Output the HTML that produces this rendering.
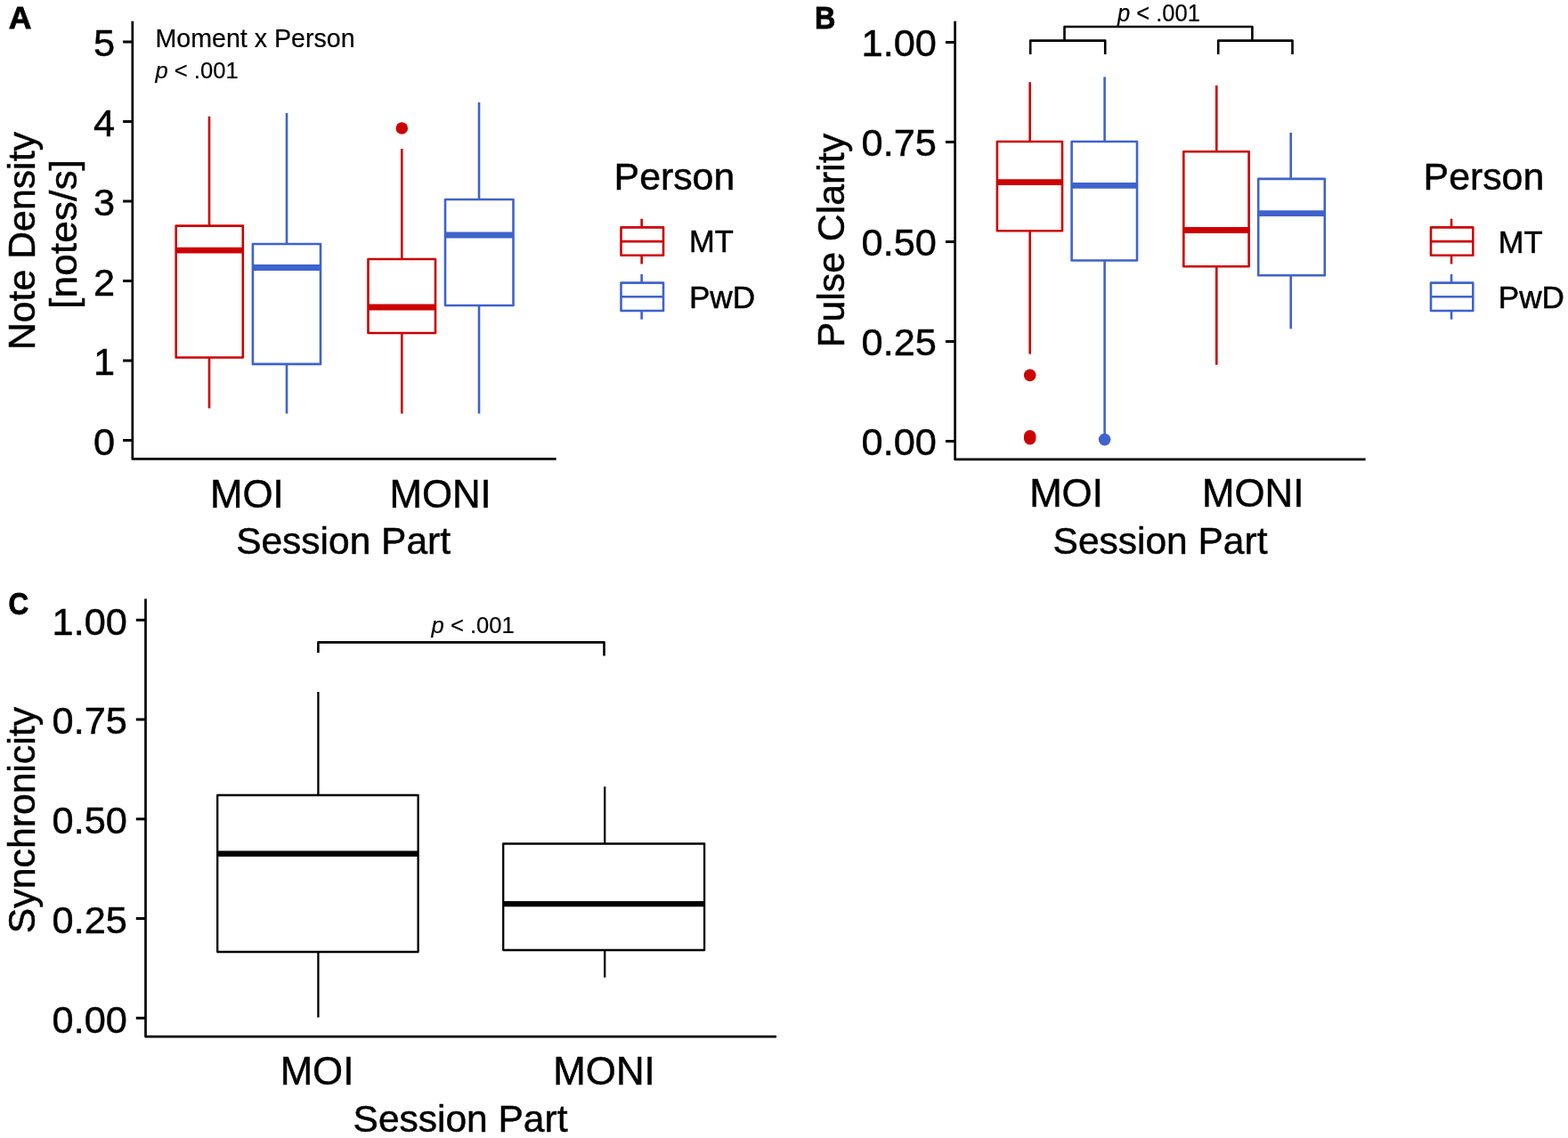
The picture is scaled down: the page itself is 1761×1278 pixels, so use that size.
<!DOCTYPE html>
<html lang="en">
<head>
<meta charset="utf-8">
<title>Figure</title>
<style>
html,body{margin:0;padding:0;background:#fff;}
body{width:1761px;height:1278px;overflow:hidden;}
svg{display:block;font-family:"Liberation Sans",sans-serif;}
</style>
</head>
<body>
<svg role="img" aria-label="Box plots of note density, pulse clarity and synchronicity by session part" width="1761" height="1278" viewBox="0 0 1761 1278">
<rect x="0" y="0" width="1761" height="1278" fill="#fff"/>
<g id="panel-A">
<polyline points="148.80,23.80 148.80,515.40 624.60,515.40" fill="none" stroke="#000" stroke-width="2.7" stroke-linejoin="round" stroke-linecap="butt"/>
<line x1="138.10" y1="47.00" x2="148.80" y2="47.00" stroke="#000" stroke-width="3.0" stroke-linecap="butt"/>
<text transform="translate(129.20,63.00)" font-size="43.3" text-anchor="end" stroke="#000" stroke-width="0.5" fill="#000" xml:space="preserve">5</text>
<line x1="138.10" y1="136.50" x2="148.80" y2="136.50" stroke="#000" stroke-width="3.0" stroke-linecap="butt"/>
<text transform="translate(129.20,152.50)" font-size="43.3" text-anchor="end" stroke="#000" stroke-width="0.5" fill="#000" xml:space="preserve">4</text>
<line x1="138.10" y1="226.00" x2="148.80" y2="226.00" stroke="#000" stroke-width="3.0" stroke-linecap="butt"/>
<text transform="translate(129.20,242.00)" font-size="43.3" text-anchor="end" stroke="#000" stroke-width="0.5" fill="#000" xml:space="preserve">3</text>
<line x1="138.10" y1="315.50" x2="148.80" y2="315.50" stroke="#000" stroke-width="3.0" stroke-linecap="butt"/>
<text transform="translate(129.20,331.50)" font-size="43.3" text-anchor="end" stroke="#000" stroke-width="0.5" fill="#000" xml:space="preserve">2</text>
<line x1="138.10" y1="405.00" x2="148.80" y2="405.00" stroke="#000" stroke-width="3.0" stroke-linecap="butt"/>
<text transform="translate(129.20,421.00)" font-size="43.3" text-anchor="end" stroke="#000" stroke-width="0.5" fill="#000" xml:space="preserve">1</text>
<line x1="138.10" y1="494.50" x2="148.80" y2="494.50" stroke="#000" stroke-width="3.0" stroke-linecap="butt"/>
<text transform="translate(129.20,510.50)" font-size="43.3" text-anchor="end" stroke="#000" stroke-width="0.5" fill="#000" xml:space="preserve">0</text>
<text transform="translate(277.30,569.80)" font-size="43.8" text-anchor="middle" stroke="#000" stroke-width="0.5" fill="#000" xml:space="preserve">MOI</text>
<text transform="translate(494.60,569.80)" font-size="43.8" text-anchor="middle" stroke="#000" stroke-width="0.5" fill="#000" xml:space="preserve">MONI</text>
<text transform="translate(385.60,622.00) scale(0.9840,1)" font-size="43.2" text-anchor="middle" stroke="#000" stroke-width="0.5" fill="#000" xml:space="preserve">Session Part</text>
<text transform="translate(38.50,270.60) rotate(-90) scale(0.9910,1)" font-size="43.2" text-anchor="middle" stroke="#000" stroke-width="0.5" fill="#000" xml:space="preserve">Note Density</text>
<text transform="translate(86.00,263.00) rotate(-90) scale(1.0280,1)" font-size="43.2" text-anchor="middle" stroke="#000" stroke-width="0.5" fill="#000" xml:space="preserve">[notes/s]</text>
<line x1="235.00" y1="130.70" x2="235.00" y2="253.60" stroke="#CC0000" stroke-width="2.6" stroke-linecap="butt"/>
<line x1="235.00" y1="401.50" x2="235.00" y2="458.50" stroke="#CC0000" stroke-width="2.6" stroke-linecap="butt"/>
<rect x="197.70" y="253.60" width="75.10" height="147.90" fill="#fff" stroke="#CC0000" stroke-width="2.6" stroke-linejoin="round"/>
<line x1="197.70" y1="281.20" x2="272.80" y2="281.20" stroke="#CC0000" stroke-width="6.8" stroke-linecap="butt"/>
<line x1="322.00" y1="127.00" x2="322.00" y2="274.00" stroke="#3F62CC" stroke-width="2.6" stroke-linecap="butt"/>
<line x1="322.00" y1="408.90" x2="322.00" y2="464.50" stroke="#3F62CC" stroke-width="2.6" stroke-linecap="butt"/>
<rect x="283.90" y="274.00" width="76.10" height="134.90" fill="#fff" stroke="#3F62CC" stroke-width="2.6" stroke-linejoin="round"/>
<line x1="283.90" y1="300.50" x2="360.00" y2="300.50" stroke="#3F62CC" stroke-width="6.8" stroke-linecap="butt"/>
<line x1="451.30" y1="167.00" x2="451.30" y2="291.00" stroke="#CC0000" stroke-width="2.6" stroke-linecap="butt"/>
<line x1="451.30" y1="374.00" x2="451.30" y2="464.50" stroke="#CC0000" stroke-width="2.6" stroke-linecap="butt"/>
<rect x="413.50" y="291.00" width="75.50" height="83.00" fill="#fff" stroke="#CC0000" stroke-width="2.6" stroke-linejoin="round"/>
<line x1="413.50" y1="345.00" x2="489.00" y2="345.00" stroke="#CC0000" stroke-width="6.8" stroke-linecap="butt"/>
<line x1="538.00" y1="115.00" x2="538.00" y2="224.00" stroke="#3F62CC" stroke-width="2.6" stroke-linecap="butt"/>
<line x1="538.00" y1="343.00" x2="538.00" y2="464.50" stroke="#3F62CC" stroke-width="2.6" stroke-linecap="butt"/>
<rect x="500.00" y="224.00" width="76.50" height="119.00" fill="#fff" stroke="#3F62CC" stroke-width="2.6" stroke-linejoin="round"/>
<line x1="500.00" y1="264.00" x2="576.50" y2="264.00" stroke="#3F62CC" stroke-width="6.8" stroke-linecap="butt"/>
<circle cx="451.3" cy="144" r="6.8" fill="#CC0000"/>
<text transform="translate(9.70,31.70)" font-size="35.5" font-weight="bold" stroke="#000" stroke-width="0.8" fill="#000" xml:space="preserve">A</text>
<text transform="translate(174.50,53.00)" font-size="28.6" stroke="#000" stroke-width="0.2" fill="#000" xml:space="preserve">Moment x Person</text>
<text transform="translate(174.50,88.00) scale(0.9650,1)" font-size="26.5" stroke="#000" stroke-width="0.2" fill="#000" xml:space="preserve"><tspan font-style="italic">p</tspan> &lt; .001</text>
<text transform="translate(689.60,213.30)" font-size="42.8" stroke="#000" stroke-width="0.5" fill="#000" xml:space="preserve">Person</text>
<line x1="720.65" y1="245.70" x2="720.65" y2="296.50" stroke="#CC0000" stroke-width="2.6" stroke-linecap="butt"/>
<rect x="697.50" y="255.40" width="47.50" height="31.40" fill="#fff" stroke="#CC0000" stroke-width="2.6" stroke-linejoin="round"/>
<line x1="697.50" y1="271.10" x2="745.00" y2="271.10" stroke="#CC0000" stroke-width="2.6" stroke-linecap="butt"/>
<text transform="translate(773.90,283.40)" font-size="34.5" stroke="#000" stroke-width="0.5" fill="#000" xml:space="preserve">MT</text>
<line x1="720.65" y1="307.90" x2="720.65" y2="358.70" stroke="#3F62CC" stroke-width="2.6" stroke-linecap="butt"/>
<rect x="697.50" y="317.60" width="47.50" height="31.40" fill="#fff" stroke="#3F62CC" stroke-width="2.6" stroke-linejoin="round"/>
<line x1="697.50" y1="333.30" x2="745.00" y2="333.30" stroke="#3F62CC" stroke-width="2.6" stroke-linecap="butt"/>
<text transform="translate(773.90,345.60) scale(1.0200,1)" font-size="34.5" stroke="#000" stroke-width="0.5" fill="#000" xml:space="preserve">PwD</text>
</g>
<g id="panel-B">
<polyline points="1072.60,23.80 1072.60,515.90 1533.60,515.90" fill="none" stroke="#000" stroke-width="2.7" stroke-linejoin="round" stroke-linecap="butt"/>
<line x1="1061.90" y1="47.50" x2="1072.60" y2="47.50" stroke="#000" stroke-width="3.0" stroke-linecap="butt"/>
<text transform="translate(1051.90,63.00)" font-size="43.3" text-anchor="end" stroke="#000" stroke-width="0.5" fill="#000" xml:space="preserve">1.00</text>
<line x1="1061.90" y1="159.50" x2="1072.60" y2="159.50" stroke="#000" stroke-width="3.0" stroke-linecap="butt"/>
<text transform="translate(1051.90,175.00)" font-size="43.3" text-anchor="end" stroke="#000" stroke-width="0.5" fill="#000" xml:space="preserve">0.75</text>
<line x1="1061.90" y1="271.50" x2="1072.60" y2="271.50" stroke="#000" stroke-width="3.0" stroke-linecap="butt"/>
<text transform="translate(1051.90,287.00)" font-size="43.3" text-anchor="end" stroke="#000" stroke-width="0.5" fill="#000" xml:space="preserve">0.50</text>
<line x1="1061.90" y1="383.50" x2="1072.60" y2="383.50" stroke="#000" stroke-width="3.0" stroke-linecap="butt"/>
<text transform="translate(1051.90,399.00)" font-size="43.3" text-anchor="end" stroke="#000" stroke-width="0.5" fill="#000" xml:space="preserve">0.25</text>
<line x1="1061.90" y1="495.50" x2="1072.60" y2="495.50" stroke="#000" stroke-width="3.0" stroke-linecap="butt"/>
<text transform="translate(1051.90,511.00)" font-size="43.3" text-anchor="end" stroke="#000" stroke-width="0.5" fill="#000" xml:space="preserve">0.00</text>
<text transform="translate(1197.50,569.30)" font-size="43.8" text-anchor="middle" stroke="#000" stroke-width="0.5" fill="#000" xml:space="preserve">MOI</text>
<text transform="translate(1407.20,569.30)" font-size="43.8" text-anchor="middle" stroke="#000" stroke-width="0.5" fill="#000" xml:space="preserve">MONI</text>
<text transform="translate(1303.00,622.00) scale(0.9840,1)" font-size="43.2" text-anchor="middle" stroke="#000" stroke-width="0.5" fill="#000" xml:space="preserve">Session Part</text>
<text transform="translate(947.60,270.00) rotate(-90) scale(0.9910,1)" font-size="43.2" text-anchor="middle" stroke="#000" stroke-width="0.5" fill="#000" xml:space="preserve">Pulse Clarity</text>
<line x1="1156.70" y1="92.20" x2="1156.70" y2="159.00" stroke="#CC0000" stroke-width="2.6" stroke-linecap="butt"/>
<line x1="1156.70" y1="259.20" x2="1156.70" y2="397.60" stroke="#CC0000" stroke-width="2.6" stroke-linecap="butt"/>
<rect x="1119.90" y="159.00" width="73.10" height="100.20" fill="#fff" stroke="#CC0000" stroke-width="2.6" stroke-linejoin="round"/>
<line x1="1119.90" y1="204.60" x2="1193.00" y2="204.60" stroke="#CC0000" stroke-width="6.8" stroke-linecap="butt"/>
<line x1="1240.60" y1="86.40" x2="1240.60" y2="159.00" stroke="#3F62CC" stroke-width="2.6" stroke-linecap="butt"/>
<line x1="1240.60" y1="292.50" x2="1240.60" y2="493.60" stroke="#3F62CC" stroke-width="2.6" stroke-linecap="butt"/>
<rect x="1203.60" y="159.00" width="73.40" height="133.50" fill="#fff" stroke="#3F62CC" stroke-width="2.6" stroke-linejoin="round"/>
<line x1="1203.60" y1="208.40" x2="1277.00" y2="208.40" stroke="#3F62CC" stroke-width="6.8" stroke-linecap="butt"/>
<line x1="1366.30" y1="95.90" x2="1366.30" y2="170.30" stroke="#CC0000" stroke-width="2.6" stroke-linecap="butt"/>
<line x1="1366.30" y1="299.30" x2="1366.30" y2="409.70" stroke="#CC0000" stroke-width="2.6" stroke-linecap="butt"/>
<rect x="1329.30" y="170.30" width="73.30" height="129.00" fill="#fff" stroke="#CC0000" stroke-width="2.6" stroke-linejoin="round"/>
<line x1="1329.30" y1="258.50" x2="1402.60" y2="258.50" stroke="#CC0000" stroke-width="6.8" stroke-linecap="butt"/>
<line x1="1449.70" y1="149.00" x2="1449.70" y2="200.90" stroke="#3F62CC" stroke-width="2.6" stroke-linecap="butt"/>
<line x1="1449.70" y1="309.30" x2="1449.70" y2="369.30" stroke="#3F62CC" stroke-width="2.6" stroke-linecap="butt"/>
<rect x="1413.20" y="200.90" width="74.60" height="108.40" fill="#fff" stroke="#3F62CC" stroke-width="2.6" stroke-linejoin="round"/>
<line x1="1413.20" y1="239.70" x2="1487.80" y2="239.70" stroke="#3F62CC" stroke-width="6.8" stroke-linecap="butt"/>
<circle cx="1156.7" cy="421.4" r="6.8" fill="#CC0000"/>
<circle cx="1156.7" cy="489.8" r="6.8" fill="#CC0000"/>
<circle cx="1156.7" cy="492.6" r="6.8" fill="#CC0000"/>
<circle cx="1240.6" cy="493.6" r="6.8" fill="#3F62CC"/>
<polyline points="1157.20,61.00 1157.20,45.60 1241.20,45.60 1241.20,61.00" fill="none" stroke="#000" stroke-width="2.6" stroke-linejoin="round" stroke-linecap="butt"/>
<polyline points="1368.20,61.00 1368.20,45.60 1451.50,45.60 1451.50,61.00" fill="none" stroke="#000" stroke-width="2.6" stroke-linejoin="round" stroke-linecap="butt"/>
<polyline points="1195.50,45.60 1195.50,30.00 1406.40,30.00 1406.40,45.60" fill="none" stroke="#000" stroke-width="2.6" stroke-linejoin="round" stroke-linecap="butt"/>
<text transform="translate(914.90,31.70) scale(0.9150,1)" font-size="35.3" font-weight="bold" stroke="#000" stroke-width="0.8" fill="#000" xml:space="preserve">B</text>
<text transform="translate(1255.00,24.00) scale(0.9350,1)" font-size="27.3" stroke="#000" stroke-width="0.2" fill="#000" xml:space="preserve"><tspan font-style="italic">p</tspan> &lt; .001</text>
<text transform="translate(1598.60,213.30)" font-size="42.8" stroke="#000" stroke-width="0.5" fill="#000" xml:space="preserve">Person</text>
<line x1="1630.05" y1="245.70" x2="1630.05" y2="296.50" stroke="#CC0000" stroke-width="2.6" stroke-linecap="butt"/>
<rect x="1607.00" y="255.40" width="47.30" height="31.40" fill="#fff" stroke="#CC0000" stroke-width="2.6" stroke-linejoin="round"/>
<line x1="1607.00" y1="271.10" x2="1654.30" y2="271.10" stroke="#CC0000" stroke-width="2.6" stroke-linecap="butt"/>
<text transform="translate(1682.70,283.80)" font-size="34.5" stroke="#000" stroke-width="0.5" fill="#000" xml:space="preserve">MT</text>
<line x1="1630.05" y1="307.90" x2="1630.05" y2="358.70" stroke="#3F62CC" stroke-width="2.6" stroke-linecap="butt"/>
<rect x="1607.00" y="317.60" width="47.30" height="31.40" fill="#fff" stroke="#3F62CC" stroke-width="2.6" stroke-linejoin="round"/>
<line x1="1607.00" y1="333.30" x2="1654.30" y2="333.30" stroke="#3F62CC" stroke-width="2.6" stroke-linecap="butt"/>
<text transform="translate(1682.70,346.00) scale(1.0200,1)" font-size="34.5" stroke="#000" stroke-width="0.5" fill="#000" xml:space="preserve">PwD</text>
</g>
<g id="panel-C">
<polyline points="163.50,672.60 163.50,1164.10 872.00,1164.10" fill="none" stroke="#000" stroke-width="2.7" stroke-linejoin="round" stroke-linecap="butt"/>
<line x1="152.80" y1="696.30" x2="163.50" y2="696.30" stroke="#000" stroke-width="3.0" stroke-linecap="butt"/>
<text transform="translate(142.90,712.60)" font-size="43.3" text-anchor="end" stroke="#000" stroke-width="0.5" fill="#000" xml:space="preserve">1.00</text>
<line x1="152.80" y1="808.00" x2="163.50" y2="808.00" stroke="#000" stroke-width="3.0" stroke-linecap="butt"/>
<text transform="translate(142.90,824.30)" font-size="43.3" text-anchor="end" stroke="#000" stroke-width="0.5" fill="#000" xml:space="preserve">0.75</text>
<line x1="152.80" y1="919.80" x2="163.50" y2="919.80" stroke="#000" stroke-width="3.0" stroke-linecap="butt"/>
<text transform="translate(142.90,936.10)" font-size="43.3" text-anchor="end" stroke="#000" stroke-width="0.5" fill="#000" xml:space="preserve">0.50</text>
<line x1="152.80" y1="1031.50" x2="163.50" y2="1031.50" stroke="#000" stroke-width="3.0" stroke-linecap="butt"/>
<text transform="translate(142.90,1047.80)" font-size="43.3" text-anchor="end" stroke="#000" stroke-width="0.5" fill="#000" xml:space="preserve">0.25</text>
<line x1="152.80" y1="1143.30" x2="163.50" y2="1143.30" stroke="#000" stroke-width="3.0" stroke-linecap="butt"/>
<text transform="translate(142.90,1159.60)" font-size="43.3" text-anchor="end" stroke="#000" stroke-width="0.5" fill="#000" xml:space="preserve">0.00</text>
<text transform="translate(356.00,1217.70)" font-size="43.8" text-anchor="middle" stroke="#000" stroke-width="0.5" fill="#000" xml:space="preserve">MOI</text>
<text transform="translate(678.50,1217.70)" font-size="43.8" text-anchor="middle" stroke="#000" stroke-width="0.5" fill="#000" xml:space="preserve">MONI</text>
<text transform="translate(517.00,1270.70) scale(0.9840,1)" font-size="43.2" text-anchor="middle" stroke="#000" stroke-width="0.5" fill="#000" xml:space="preserve">Session Part</text>
<text transform="translate(39.00,921.00) rotate(-90) scale(0.9910,1)" font-size="43.2" text-anchor="middle" stroke="#000" stroke-width="0.5" fill="#000" xml:space="preserve">Synchronicity</text>
<line x1="357.40" y1="777.00" x2="357.40" y2="893.00" stroke="#000" stroke-width="2.3" stroke-linecap="butt"/>
<line x1="357.40" y1="1069.00" x2="357.40" y2="1142.60" stroke="#000" stroke-width="2.3" stroke-linecap="butt"/>
<rect x="244.20" y="893.00" width="225.40" height="176.00" fill="#fff" stroke="#000" stroke-width="2.3" stroke-linejoin="round"/>
<line x1="244.20" y1="958.80" x2="469.60" y2="958.80" stroke="#000" stroke-width="6.4" stroke-linecap="butt"/>
<line x1="679.20" y1="883.40" x2="679.20" y2="947.50" stroke="#000" stroke-width="2.3" stroke-linecap="butt"/>
<line x1="679.20" y1="1067.00" x2="679.20" y2="1097.70" stroke="#000" stroke-width="2.3" stroke-linecap="butt"/>
<rect x="565.20" y="947.50" width="225.90" height="119.50" fill="#fff" stroke="#000" stroke-width="2.3" stroke-linejoin="round"/>
<line x1="565.20" y1="1015.10" x2="791.10" y2="1015.10" stroke="#000" stroke-width="6.4" stroke-linecap="butt"/>
<polyline points="357.40,733.00 357.40,721.40 678.50,721.40 678.50,736.40" fill="none" stroke="#000" stroke-width="2.6" stroke-linejoin="round" stroke-linecap="butt"/>
<text transform="translate(9.50,689.70) scale(0.8850,1)" font-size="35.5" font-weight="bold" stroke="#000" stroke-width="0.8" fill="#000" xml:space="preserve">C</text>
<text transform="translate(484.60,711.40) scale(0.9650,1)" font-size="26.5" stroke="#000" stroke-width="0.2" fill="#000" xml:space="preserve"><tspan font-style="italic">p</tspan> &lt; .001</text>
</g>
</svg>
</body>
</html>
